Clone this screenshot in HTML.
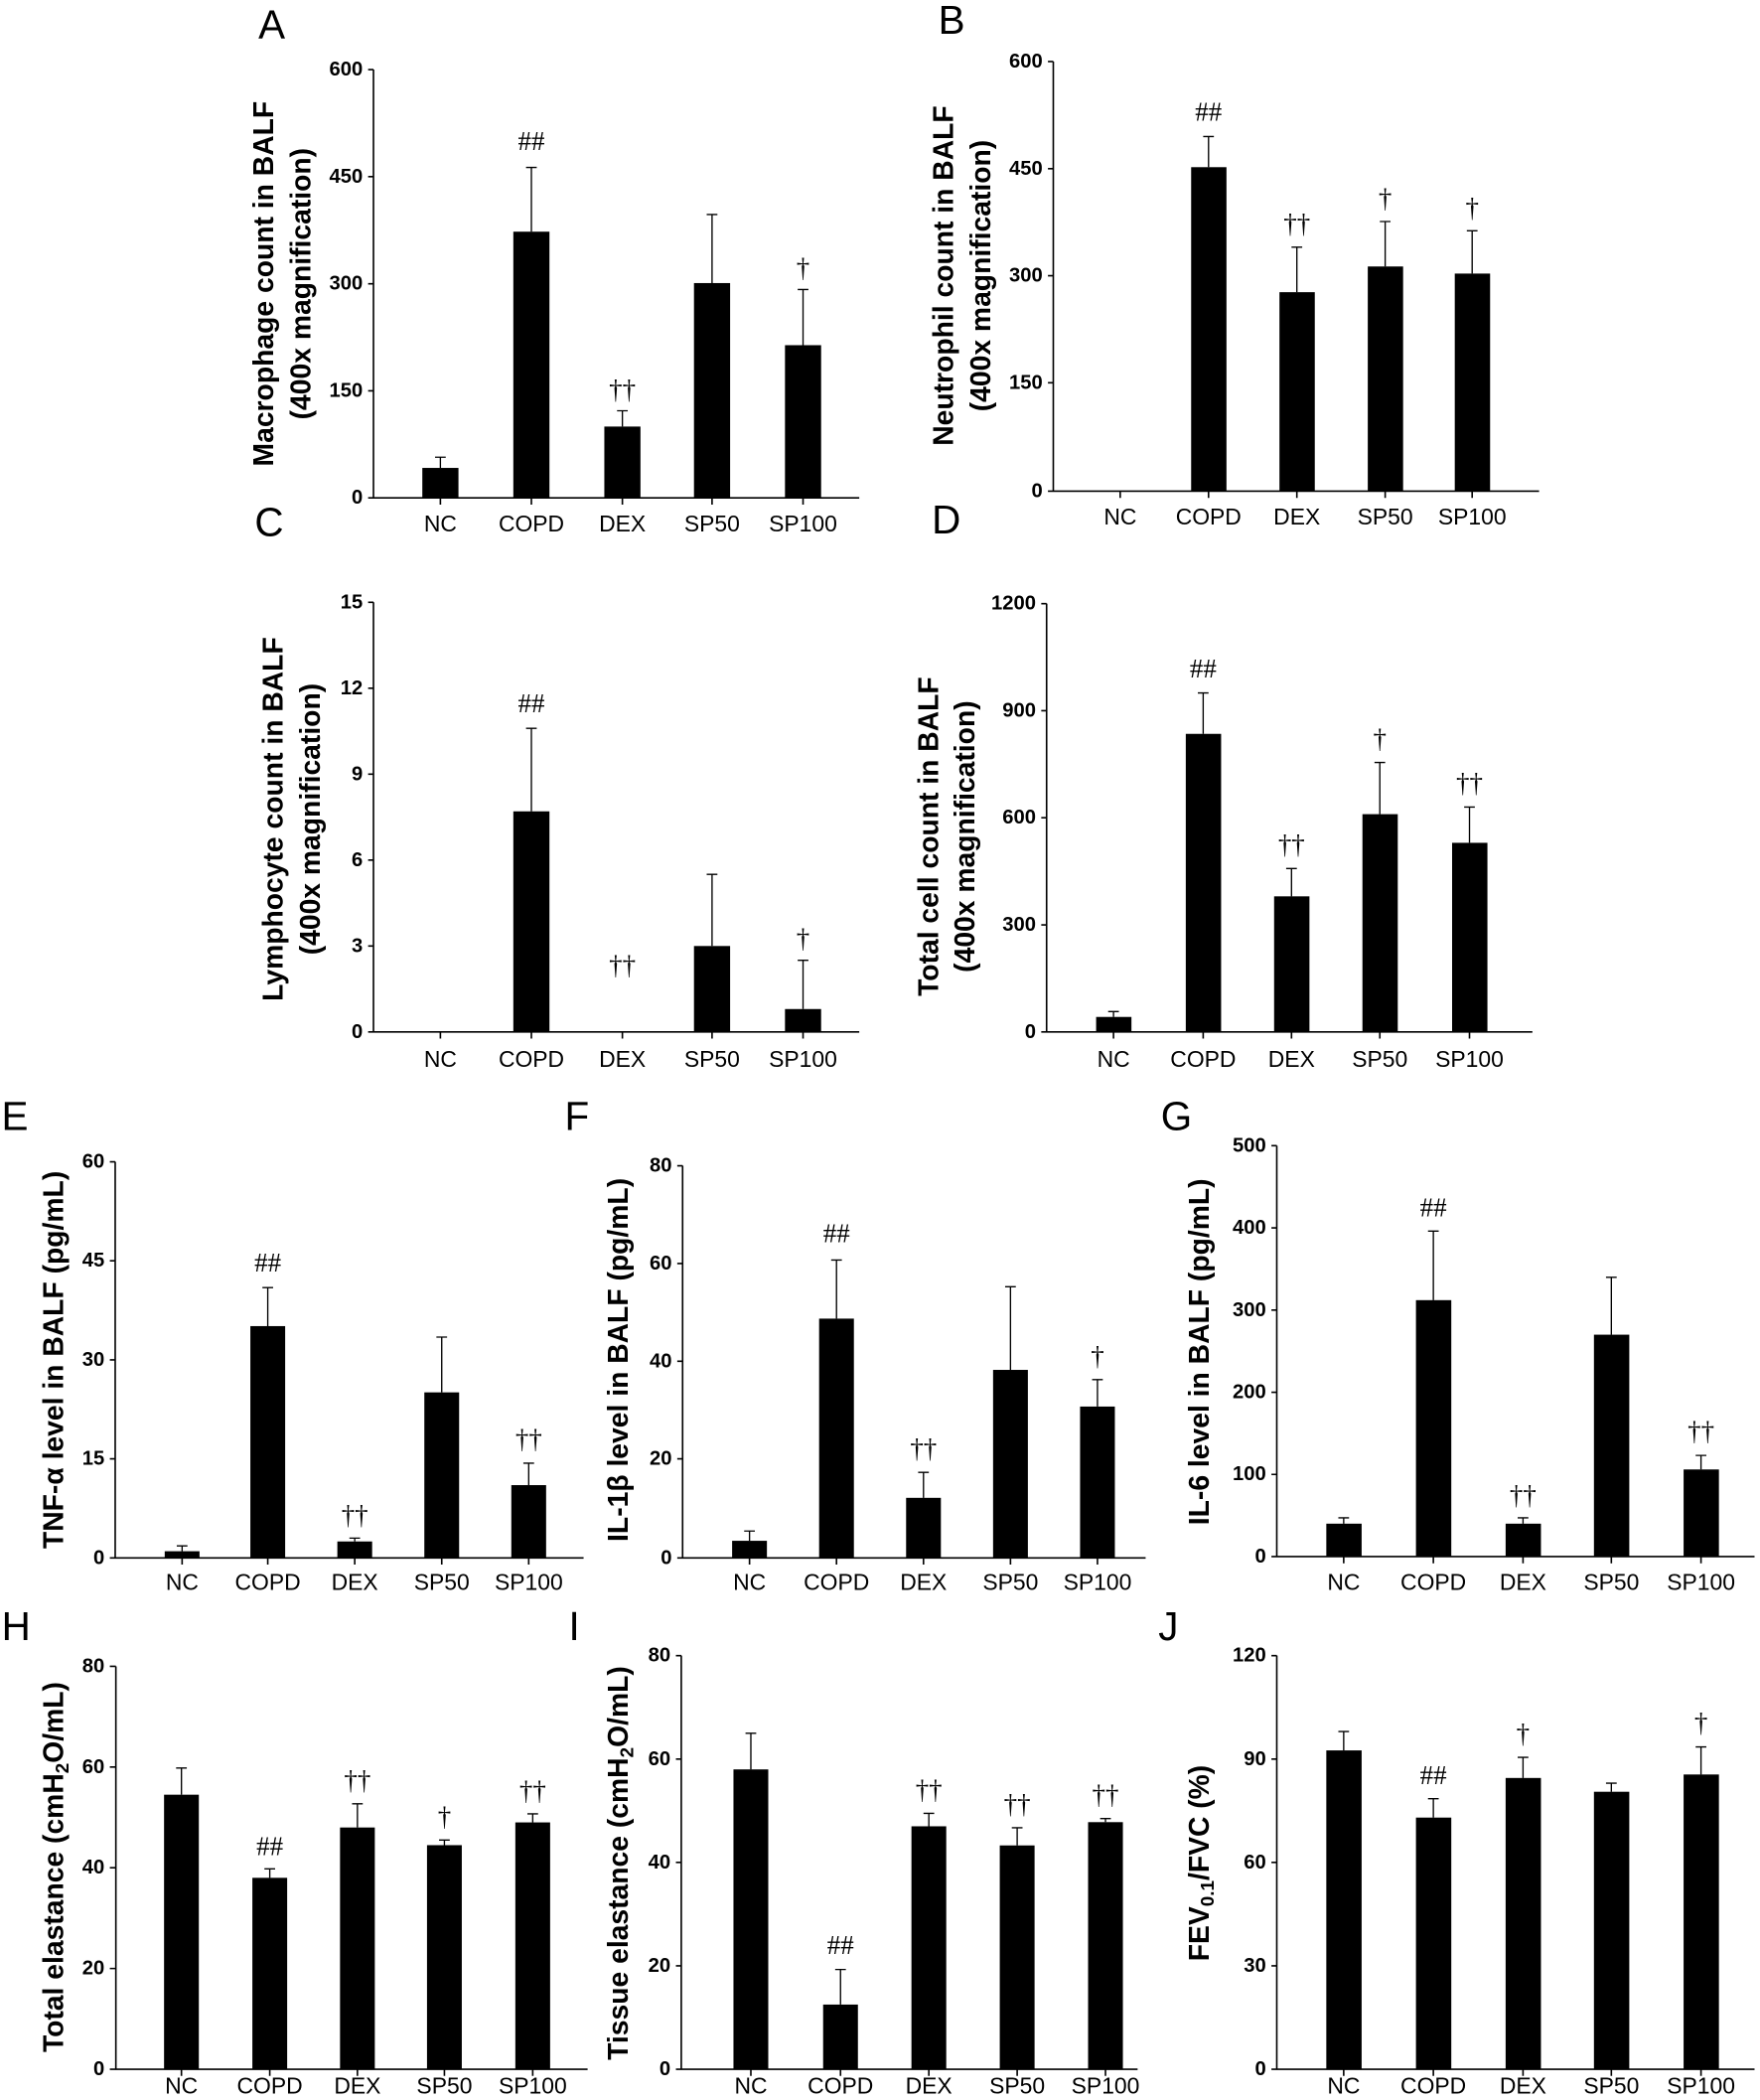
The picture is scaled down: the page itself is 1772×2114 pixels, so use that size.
<!DOCTYPE html>
<html><head><meta charset="utf-8"><style>
html,body{margin:0;padding:0;background:#fff}
svg{display:block}
.tk{font-family:"Liberation Sans Narrow","Liberation Sans",sans-serif;font-weight:bold;font-size:15px;text-anchor:end;dominant-baseline:central}
.xl{font-family:"Liberation Sans Narrow","Liberation Sans",sans-serif;font-size:17px;text-anchor:middle}
.yt{font-family:"Liberation Sans",sans-serif;font-weight:bold;font-size:21px;text-anchor:middle}
.lt{font-family:"Liberation Sans",sans-serif;font-size:30px;text-anchor:middle;dominant-baseline:central}
.mk{font-family:"Liberation Serif",serif;font-size:20px;text-anchor:middle}
.ax{stroke:#000;stroke-width:1.2;fill:none}
.eb{stroke:#000;stroke-width:1;fill:none}
</style></head><body>
<svg width="1772" height="2114" viewBox="0 0 1315 1569" xmlns="http://www.w3.org/2000/svg">
<rect width="1315" height="1569" fill="#fff"/>

<!-- A -->
<g>
<text class="lt" x="203" y="18">A</text>
<path class="ax" d="M279,52V372H642M275,52H279M275,132H279M275,212H279M275,292H279M275,372H279M329,372v5M397,372v5M465,372v5M532,372v5M600,372v5"/>
<text class="tk" x="271" y="52">600</text><text class="tk" x="271" y="132">450</text><text class="tk" x="271" y="212">300</text><text class="tk" x="271" y="292">150</text><text class="tk" x="271" y="372">0</text>
<rect x="315.5" y="349.6" width="27" height="22.4"/><rect x="383.5" y="173.1" width="27" height="198.9"/><rect x="451.5" y="318.7" width="27" height="53.3"/><rect x="518.5" y="211.5" width="27" height="160.5"/><rect x="586.5" y="257.9" width="27" height="114.1"/>
<path class="eb" d="M329,349.6V341.6M325,341.6h8M397,173.1V125.1M393,125.1h8M465,318.7V306.9M461,306.9h8M532,211.5V160.3M528,160.3h8M600,257.9V216.3M596,216.3h8"/>
<text class="mk" x="397" y="112">##</text><text class="mk" x="465" y="298">††</text><text class="mk" x="600" y="207">†</text>
<text class="xl" x="329" y="397">NC</text><text class="xl" x="397" y="397">COPD</text><text class="xl" x="465" y="397">DEX</text><text class="xl" x="532" y="397">SP50</text><text class="xl" x="600" y="397">SP100</text>
<text class="yt" transform="translate(204,212) rotate(-90)">Macrophage count in BALF</text>
<text class="yt" transform="translate(232,212) rotate(-90)">(400x magnification)</text>
</g>

<!-- B -->
<g>
<text class="lt" x="711" y="15">B</text>
<path class="ax" d="M787,46V367H1150M783,46H787M783,126H787M783,206H787M783,286H787M783,367H787M837,367v5M903,367v5M969,367v5M1035,367v5M1100,367v5"/>
<text class="tk" x="779" y="46">600</text><text class="tk" x="779" y="126">450</text><text class="tk" x="779" y="206">300</text><text class="tk" x="779" y="286">150</text><text class="tk" x="779" y="367">0</text>
<rect x="890" y="124.9" width="26.4" height="242.1"/><rect x="956" y="218.3" width="26.4" height="148.7"/><rect x="1022" y="199.1" width="26.4" height="167.9"/><rect x="1087" y="204.4" width="26.4" height="162.6"/>
<path class="eb" d="M903,124.9V102M899,102h8M969,218.3V184.7M965,184.7h8M1035,199.1V165.5M1031,165.5h8M1100,204.4V172.4M1096,172.4h8"/>
<text class="mk" x="903" y="90">##</text><text class="mk" x="969" y="174">††</text><text class="mk" x="1035" y="155">†</text><text class="mk" x="1100" y="162">†</text>
<text class="xl" x="837" y="392">NC</text><text class="xl" x="903" y="392">COPD</text><text class="xl" x="969" y="392">DEX</text><text class="xl" x="1035" y="392">SP50</text><text class="xl" x="1100" y="392">SP100</text>
<text class="yt" transform="translate(712,206) rotate(-90)">Neutrophil count in BALF</text>
<text class="yt" transform="translate(740,206) rotate(-90)">(400x magnification)</text>
</g>

<!-- C -->
<g>
<text class="lt" x="201" y="390">C</text>
<path class="ax" d="M279,450V771H642M275,450H279M275,514.2H279M275,578.4H279M275,642.6H279M275,706.8H279M275,771H279M329,771v5M397,771v5M465,771v5M532,771v5M600,771v5"/>
<text class="tk" x="271" y="450">15</text><text class="tk" x="271" y="514.2">12</text><text class="tk" x="271" y="578.4">9</text><text class="tk" x="271" y="642.6">6</text><text class="tk" x="271" y="706.8">3</text><text class="tk" x="271" y="771">0</text>
<rect x="383.5" y="606.2" width="27" height="164.8"/><rect x="518.5" y="706.8" width="27" height="64.2"/><rect x="586.5" y="753.9" width="27" height="17.1"/>
<path class="eb" d="M397,606.2V544.2M393,544.2h8M532,706.8V653.3M528,653.3h8M600,753.9V717.5M596,717.5h8"/>
<text class="mk" x="397" y="532">##</text><text class="mk" x="465" y="728">††</text><text class="mk" x="600" y="708">†</text>
<text class="xl" x="329" y="797">NC</text><text class="xl" x="397" y="797">COPD</text><text class="xl" x="465" y="797">DEX</text><text class="xl" x="532" y="797">SP50</text><text class="xl" x="600" y="797">SP100</text>
<text class="yt" transform="translate(211,612) rotate(-90)">Lymphocyte count in BALF</text>
<text class="yt" transform="translate(239,612) rotate(-90)">(400x magnification)</text>
</g>

<!-- D -->
<g>
<text class="lt" x="707" y="388">D</text>
<path class="ax" d="M782,451V771H1145M778,451H782M778,531H782M778,611H782M778,691H782M778,771H782M832,771v5M899,771v5M965,771v5M1031,771v5M1098,771v5"/>
<text class="tk" x="774" y="451">1200</text><text class="tk" x="774" y="531">900</text><text class="tk" x="774" y="611">600</text><text class="tk" x="774" y="691">300</text><text class="tk" x="774" y="771">0</text>
<rect x="819" y="759.8" width="26.4" height="11.2"/><rect x="886" y="548.3" width="26.4" height="222.7"/><rect x="952" y="669.7" width="26.4" height="101.3"/><rect x="1018" y="608.3" width="26.4" height="162.7"/><rect x="1085" y="629.7" width="26.4" height="141.3"/>
<path class="eb" d="M832,759.8V755.8M828,755.8h8M899,548.3V517.7M895,517.7h8M965,669.7V648.9M961,648.9h8M1031,608.3V569.7M1027,569.7h8M1098,629.7V603M1094,603h8"/>
<text class="mk" x="899" y="506">##</text><text class="mk" x="965" y="638">††</text><text class="mk" x="1031" y="559">†</text><text class="mk" x="1098" y="592">††</text>
<text class="xl" x="832" y="797">NC</text><text class="xl" x="899" y="797">COPD</text><text class="xl" x="965" y="797">DEX</text><text class="xl" x="1031" y="797">SP50</text><text class="xl" x="1098" y="797">SP100</text>
<text class="yt" transform="translate(701,625) rotate(-90)">Total cell count in BALF</text>
<text class="yt" transform="translate(728,625) rotate(-90)">(400x magnification)</text>
</g>

<!-- E -->
<g>
<text class="lt" x="11" y="834">E</text>
<path class="ax" d="M86,868V1164H436M82,868H86M82,942H86M82,1016H86M82,1090H86M82,1164H86M136,1164v5M200,1164v5M265,1164v5M330,1164v5M395,1164v5"/>
<text class="tk" x="78" y="868">60</text><text class="tk" x="78" y="942">45</text><text class="tk" x="78" y="1016">30</text><text class="tk" x="78" y="1090">15</text><text class="tk" x="78" y="1164">0</text>
<rect x="123" y="1159" width="26" height="5"/><rect x="187" y="990.8" width="26" height="173.2"/><rect x="252" y="1151.7" width="26" height="12.3"/><rect x="317" y="1040.3" width="26" height="123.7"/><rect x="382" y="1109.6" width="26" height="54.4"/>
<path class="eb" d="M136,1159V1155M132,1155h8M200,990.8V962M196,962h8M265,1151.7V1149.2M261,1149.2h8M330,1040.3V999M326,999h8M395,1109.6V1093.2M391,1093.2h8"/>
<text class="mk" x="200" y="950">##</text><text class="mk" x="265" y="1139">††</text><text class="mk" x="395" y="1082">††</text>
<text class="xl" x="136" y="1188">NC</text><text class="xl" x="200" y="1188">COPD</text><text class="xl" x="265" y="1188">DEX</text><text class="xl" x="330" y="1188">SP50</text><text class="xl" x="395" y="1188">SP100</text>
<text class="yt" transform="translate(47,1016) rotate(-90)">TNF-α level in BALF (pg/mL)</text>
</g>

<!-- F -->
<g>
<text class="lt" x="431" y="834">F</text>
<path class="ax" d="M510,871V1164H856M506,871H510M506,944H510M506,1017H510M506,1090H510M506,1164H510M560,1164v5M625,1164v5M690,1164v5M755,1164v5M820,1164v5"/>
<text class="tk" x="502" y="871">80</text><text class="tk" x="502" y="944">60</text><text class="tk" x="502" y="1017">40</text><text class="tk" x="502" y="1090">20</text><text class="tk" x="502" y="1164">0</text>
<rect x="547" y="1151.2" width="26" height="12.8"/><rect x="612" y="985.2" width="26" height="178.8"/><rect x="677" y="1119.1" width="26" height="44.9"/><rect x="742" y="1023.5" width="26" height="140.5"/><rect x="807" y="1050.9" width="26" height="113.1"/>
<path class="eb" d="M560,1151.2V1143.9M556,1143.9h8M625,985.2V941.4M621,941.4h8M690,1119.1V1100.1M686,1100.1h8M755,1023.5V961.4M751,961.4h8M820,1050.9V1030.8M816,1030.8h8"/>
<text class="mk" x="625" y="928">##</text><text class="mk" x="690" y="1089">††</text><text class="mk" x="820" y="1020">†</text>
<text class="xl" x="560" y="1188">NC</text><text class="xl" x="625" y="1188">COPD</text><text class="xl" x="690" y="1188">DEX</text><text class="xl" x="755" y="1188">SP50</text><text class="xl" x="820" y="1188">SP100</text>
<text class="yt" transform="translate(469,1016) rotate(-90)">IL-1β level in BALF (pg/mL)</text>
</g>

<!-- G -->
<g>
<text class="lt" x="879" y="834">G</text>
<path class="ax" d="M954,856V1163H1311M950,856H954M950,917.4H954M950,978.8H954M950,1040.2H954M950,1101.6H954M950,1163H954M1004,1163v5M1071,1163v5M1138,1163v5M1204,1163v5M1271,1163v5"/>
<text class="tk" x="946" y="856">500</text><text class="tk" x="946" y="917.4">400</text><text class="tk" x="946" y="978.8">300</text><text class="tk" x="946" y="1040.2">200</text><text class="tk" x="946" y="1101.6">100</text><text class="tk" x="946" y="1163">0</text>
<rect x="991" y="1138.4" width="26.4" height="24.6"/><rect x="1058" y="971.4" width="26.4" height="191.6"/><rect x="1125" y="1138.4" width="26.4" height="24.6"/><rect x="1191" y="997.2" width="26.4" height="165.8"/><rect x="1258" y="1097.9" width="26.4" height="65.1"/>
<path class="eb" d="M1004,1138.4V1134M1000,1134h8M1071,971.4V919.8M1067,919.8h8M1138,1138.4V1134M1134,1134h8M1204,997.2V954.3M1200,954.3h8M1271,1097.9V1087.4M1267,1087.4h8"/>
<text class="mk" x="1071" y="909">##</text><text class="mk" x="1138" y="1124">††</text><text class="mk" x="1271" y="1076">††</text>
<text class="xl" x="1004" y="1188">NC</text><text class="xl" x="1071" y="1188">COPD</text><text class="xl" x="1138" y="1188">DEX</text><text class="xl" x="1204" y="1188">SP50</text><text class="xl" x="1271" y="1188">SP100</text>
<text class="yt" transform="translate(903,1010) rotate(-90)">IL-6 level in BALF (pg/mL)</text>
</g>

<!-- H -->
<g>
<text class="lt" x="12" y="1215">H</text>
<path class="ax" d="M86.5,1245V1546H439M82,1245H86.5M82,1320.25H86.5M82,1395.5H86.5M82,1470.75H86.5M82,1546H86.5M135.5,1546v5M201.5,1546v5M267,1546v5M332,1546v5M398,1546v5"/>
<text class="tk" x="78" y="1245">80</text><text class="tk" x="78" y="1320.25">60</text><text class="tk" x="78" y="1395.5">40</text><text class="tk" x="78" y="1470.75">20</text><text class="tk" x="78" y="1546">0</text>
<rect x="122.5" y="1340.9" width="26" height="205.1"/><rect x="188.5" y="1403" width="26" height="143"/><rect x="254" y="1365.4" width="26" height="180.6"/><rect x="319" y="1378.6" width="26" height="167.4"/><rect x="385" y="1361.6" width="26" height="184.4"/>
<path class="eb" d="M135.5,1340.9V1321M131.5,1321h8M201.5,1403V1396.3M197.5,1396.3h8M267,1365.4V1347.7M263,1347.7h8M332,1378.6V1374.8M328,1374.8h8M398,1361.6V1355.2M394,1355.2h8"/>
<text class="mk" x="201.5" y="1386">##</text><text class="mk" x="267" y="1337">††</text><text class="mk" x="332" y="1364">†</text><text class="mk" x="398" y="1345">††</text>
<text class="xl" x="135.5" y="1564">NC</text><text class="xl" x="201.5" y="1564">COPD</text><text class="xl" x="267" y="1564">DEX</text><text class="xl" x="332" y="1564">SP50</text><text class="xl" x="398" y="1564">SP100</text>
<text class="yt" transform="translate(47,1395) rotate(-90)">Total elastance (cmH<tspan font-size="14" dy="4">2</tspan><tspan dy="-4">O/mL)</tspan></text>
</g>

<!-- I -->
<g>
<text class="lt" x="429" y="1215">I</text>
<path class="ax" d="M509,1237V1546H850M505,1237H509M505,1314.25H509M505,1391.5H509M505,1468.75H509M505,1546H509M561,1546v5M628,1546v5M694,1546v5M760,1546v5M826,1546v5"/>
<text class="tk" x="501" y="1237">80</text><text class="tk" x="501" y="1314.25">60</text><text class="tk" x="501" y="1391.5">40</text><text class="tk" x="501" y="1468.75">20</text><text class="tk" x="501" y="1546">0</text>
<rect x="548" y="1322" width="26" height="224"/><rect x="615" y="1497.7" width="26" height="48.3"/><rect x="681" y="1364.5" width="26" height="181.5"/><rect x="747" y="1378.8" width="26" height="167.2"/><rect x="813" y="1361.4" width="26" height="184.6"/>
<path class="eb" d="M561,1322V1295M557,1295h8M628,1497.7V1471.5M624,1471.5h8M694,1364.5V1354.8M690,1354.8h8M760,1378.8V1365.6M756,1365.6h8M826,1361.4V1358.7M822,1358.7h8"/>
<text class="mk" x="628" y="1460">##</text><text class="mk" x="694" y="1344">††</text><text class="mk" x="760" y="1355">††</text><text class="mk" x="826" y="1348">††</text>
<text class="xl" x="561" y="1564">NC</text><text class="xl" x="628" y="1564">COPD</text><text class="xl" x="694" y="1564">DEX</text><text class="xl" x="760" y="1564">SP50</text><text class="xl" x="826" y="1564">SP100</text>
<text class="yt" transform="translate(469,1392) rotate(-90)">Tissue elastance (cmH<tspan font-size="14" dy="4">2</tspan><tspan dy="-4">O/mL)</tspan></text>
</g>

<!-- J -->
<g>
<text class="lt" x="873" y="1215">J</text>
<path class="ax" d="M954,1237V1546H1311M950,1237H954M950,1314.25H954M950,1391.5H954M950,1468.75H954M950,1546H954M1004,1546v5M1071,1546v5M1138,1546v5M1204,1546v5M1271,1546v5"/>
<text class="tk" x="946" y="1237">120</text><text class="tk" x="946" y="1314.25">90</text><text class="tk" x="946" y="1391.5">60</text><text class="tk" x="946" y="1468.75">30</text><text class="tk" x="946" y="1546">0</text>
<rect x="991" y="1307.8" width="26.4" height="238.2"/><rect x="1058" y="1358" width="26.4" height="188"/><rect x="1125" y="1328.4" width="26.4" height="217.6"/><rect x="1191" y="1338.7" width="26.4" height="207.3"/><rect x="1258" y="1325.8" width="26.4" height="220.2"/>
<path class="eb" d="M1004,1307.8V1293.7M1000,1293.7h8M1071,1358V1343.9M1067,1343.9h8M1138,1328.4V1313M1134,1313h8M1204,1338.7V1332.3M1200,1332.3h8M1271,1325.8V1305.2M1267,1305.2h8"/>
<text class="mk" x="1071" y="1333">##</text><text class="mk" x="1138" y="1302">†</text><text class="mk" x="1271" y="1294">†</text>
<text class="xl" x="1004" y="1564">NC</text><text class="xl" x="1071" y="1564">COPD</text><text class="xl" x="1138" y="1564">DEX</text><text class="xl" x="1204" y="1564">SP50</text><text class="xl" x="1271" y="1564">SP100</text>
<text class="yt" transform="translate(903,1392) rotate(-90)">FEV<tspan font-size="14" dy="4">0.1</tspan><tspan dy="-4">/FVC (%)</tspan></text>
</g>
</svg>
</body></html>
